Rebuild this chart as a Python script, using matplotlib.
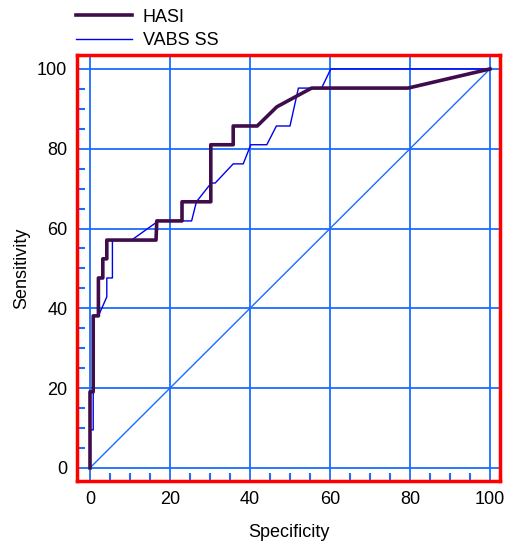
import matplotlib
matplotlib.use("Agg")
import matplotlib.pyplot as plt
from matplotlib.ticker import MultipleLocator

plt.rcParams['font.family'] = ['Liberation Sans', 'DejaVu Sans']

# ROC curves
hasi_x = [0, 0, 0.8, 0.8, 2.1, 2.1, 3.2, 3.2, 4.2, 4.2, 16.5, 16.7, 23, 23,
          30.2, 30.2, 35.8, 35.8, 41.8, 46.7, 55.4, 79.5, 100]
hasi_y = [0, 19.05, 19.05, 38.1, 38.1, 47.6, 47.6, 52.4, 52.4, 57.1, 57.1, 61.9, 61.9, 66.7,
          66.7, 81.0, 81.0, 85.7, 85.7, 90.5, 95.2, 95.2, 100]

vabs_x = [0, 0, 0.8, 0.8, 2.1, 4.2, 4.2, 5.6, 5.6, 10.4, 17.1, 25.4, 26.6, 30.3,
          31.3, 35.8, 38.3, 40.2, 44.2, 46.6, 50, 52.1, 57.9, 60.2, 100]
vabs_y = [0, 9.52, 9.52, 38.1, 38.1, 42.86, 47.6, 47.6, 57.1, 57.1, 61.9, 61.9, 66.7, 71.4,
          71.4, 76.2, 76.2, 81.0, 81.0, 85.7, 85.7, 95.2, 95.2, 100, 100]

ref_line = [0, 100]
ticks = [0, 20, 40, 60, 80, 100]

grid_blue = "#1a6cff"

fig = plt.figure(figsize=(5.09, 5.52), dpi=100)
ax = fig.add_axes([0.1513, 0.1286, 0.8310, 0.7718])

ax.plot(ref_line, ref_line, color=grid_blue, lw=1.0, zorder=2)
ax.plot(vabs_x, vabs_y, color="#0000ee", lw=1.0, label="VABS SS", zorder=3)
ax.plot(hasi_x, hasi_y, color="#3f0d4c", lw=2.6, label="HASI", zorder=4)

ax.set_xlim(-3.25, 102.5)
ax.set_ylim(-3.3, 103.5)
ax.set_xticks(ticks)
ax.set_yticks(ticks)
ax.xaxis.set_minor_locator(MultipleLocator(5))
ax.yaxis.set_minor_locator(MultipleLocator(5))
ax.grid(True, which="major", color=grid_blue, lw=1.3, zorder=1)
ax.set_axisbelow(True)

ax.tick_params(which="major", length=0, labelsize=13, pad=7, labelcolor="black")
ax.tick_params(which="minor", direction="in", length=5.5, width=1.5, color=grid_blue)

for s in ax.spines.values():
    s.set_color("#ff0000")
    s.set_linewidth(2.5)
    s.set_zorder(5)

ax.set_xlabel("Specificity", fontsize=13, labelpad=12)
ax.set_ylabel("Sensitivity", fontsize=13, labelpad=5)

handles, labels = ax.get_legend_handles_labels()
ax.legend(handles[::-1], labels[::-1], loc="lower left",
          bbox_to_anchor=(-0.024, 0.993), frameon=False, fontsize=13,
          handlelength=3.1, handletextpad=0.6, labelspacing=0.35,
          borderaxespad=0.1)

fig.savefig("out.png", dpi=100)
